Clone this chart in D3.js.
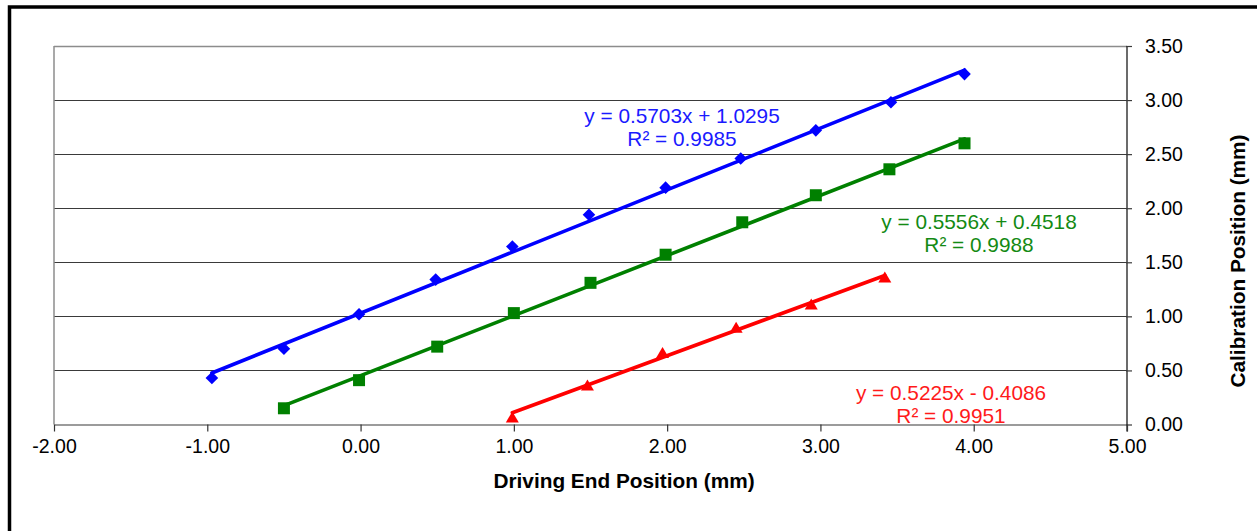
<!DOCTYPE html>
<html>
<head>
<meta charset="utf-8">
<script src="https://cdn.jsdelivr.net/npm/d3@7"></script>
<style>
  html, body { margin: 0; padding: 0; background: #fff; }
  svg { display: block; }
  text { font-family: "Liberation Sans", Arial, sans-serif; }
</style>
</head>
<body>
<svg id="chart" width="1257" height="531"></svg>
<script>
// Driving end position (mm) vs. calibration position (mm) for three runs
const blueX  = [-0.97, -0.50, -0.01, 0.49, 0.99, 1.49, 1.99, 2.48, 2.97, 3.46, 3.94];
const blueY  = [0.43, 0.70, 1.02, 1.34, 1.645, 1.94, 2.19, 2.46, 2.72, 2.98, 3.24];
const greenX = [-0.50, -0.01, 0.50, 1.00, 1.50, 1.99, 2.49, 2.97, 3.45, 3.94];
const greenY = [0.15, 0.41, 0.72, 1.03, 1.31, 1.57, 1.87, 2.12, 2.36, 2.60];
const redX   = [0.99, 1.48, 1.97, 2.45, 2.94, 3.42];
const redY   = [0.065, 0.36, 0.66, 0.895, 1.11, 1.36];

// Linear trendline coefficients and fit quality
const slopes     = [0.5703, 0.5556, 0.5225];
const intercepts = [1.0295, 0.4518, -0.4086];
const rSquared   = ["0.9985", "0.9988", "0.9951"];
const eqLabels   = ["y = 0.5703x + 1.0295", "y = 0.5556x + 0.4518", "y = 0.5225x - 0.4086"];

const xTicks = [-2, -1, 0, 1, 2, 3, 4, 5];
const yTicks = [0, 0.5, 1, 1.5, 2, 2.5, 3, 3.5];
const xTitle = "Driving End Position (mm)";
const yTitle = "Calibration Position (mm)";

const series = [
  { xs: blueX,  ys: blueY,  color: "#0000ff", text: "#1a1aff", shape: "diamond",  label: [682, 123] },
  { xs: greenX, ys: greenY, color: "#008000", text: "#138a13", shape: "square",   label: [979, 229] },
  { xs: redX,   ys: redY,   color: "#ff0000", text: "#ff1a1a", shape: "triangle", label: [951, 400] }
];

const svg = d3.select("#chart");
const plot = { left: 54, right: 1127, top: 46, bottom: 424.5 };

const x = d3.scaleLinear().domain([-2, 5]).range([plot.left, plot.right]);
const y = d3.scaleLinear().domain([0, 3.5]).range([plot.bottom, plot.top]);

// Two decimals with a plain hyphen for negatives
const fmt2 = d => d.toFixed(2);

// Outer chart frame
svg.append("rect")
  .attr("x", 9.5).attr("y", 7)
  .attr("width", 1270).attr("height", 560)
  .attr("fill", "#fff").attr("stroke", "#000").attr("stroke-width", 3.5);

// Horizontal gridlines
svg.append("g")
  .selectAll("line")
  .data(yTicks.filter(t => t > 0))
  .join("line")
  .attr("x1", plot.left).attr("x2", plot.right)
  .attr("y1", d => Math.round(y(d)) + 0.5).attr("y2", d => Math.round(y(d)) + 0.5)
  .attr("stroke", d => d === 3.5 ? "#8c8c8c" : "#3a3a3a")
  .attr("stroke-width", d => d === 3.5 ? 1.5 : 1.2);

// Plot area left edge
svg.append("line")
  .attr("x1", plot.left).attr("x2", plot.left)
  .attr("y1", plot.top).attr("y2", plot.bottom)
  .attr("stroke", "#8c8c8c").attr("stroke-width", 1.5);

// Bottom axis
const xAxis = d3.axisBottom(x)
  .tickValues(xTicks)
  .tickSize(7)
  .tickSizeOuter(0)
  .tickPadding(8)
  .tickFormat(fmt2);

const gx = svg.append("g")
  .attr("transform", `translate(0,${plot.bottom})`)
  .call(xAxis);
gx.select(".domain").attr("stroke", "#7a7a7a").attr("stroke-width", 1.5);
gx.selectAll(".tick line").attr("stroke", "#333").attr("stroke-width", 1.2);
gx.selectAll(".tick text")
  .attr("fill", "#000")
  .style("font-size", "19.5px")
  .style("font-family", "'Liberation Sans', Arial, sans-serif");

// Right axis
const yAxis = d3.axisRight(y)
  .tickValues(yTicks)
  .tickSize(5)
  .tickSizeOuter(0)
  .tickPadding(13)
  .tickFormat(fmt2);

const gy = svg.append("g")
  .attr("transform", `translate(${plot.right},0)`)
  .call(yAxis);
gy.select(".domain").attr("stroke", "#3a3a3a").attr("stroke-width", 1.5)
  .attr("d", `M0,${plot.top}V${plot.bottom + 7}`);
gy.selectAll(".tick line").attr("stroke", "#3a3a3a").attr("stroke-width", 1.2).attr("x1", -1);
gy.selectAll(".tick text")
  .attr("fill", "#000")
  .style("font-size", "19.5px")
  .style("font-family", "'Liberation Sans', Arial, sans-serif");

// Marker shapes
function markerPath(shape) {
  const p = d3.path();
  if (shape === "diamond") {
    const r = 6.3;
    p.moveTo(0, -r); p.lineTo(r, 0); p.lineTo(0, r); p.lineTo(-r, 0); p.closePath();
  } else if (shape === "square") {
    const h = 6;
    p.rect(-h, -h, 2 * h, 2 * h);
  } else {
    const w = 6.5, h = 11;
    p.moveTo(0, -h * 0.55); p.lineTo(w, h * 0.45); p.lineTo(-w, h * 0.45); p.closePath();
  }
  return p.toString();
}

series.forEach((s, i) => {
  const pts = s.xs.map((v, k) => [v, s.ys[k]]);

  // Data markers
  svg.append("g")
    .selectAll("path")
    .data(pts)
    .join("path")
    .attr("d", markerPath(s.shape))
    .attr("transform", d => `translate(${x(d[0])},${y(d[1])})`)
    .attr("fill", s.color);

  // Linear trendline over the series' x range
  const [x0, x1] = d3.extent(s.xs);
  const fit = v => slopes[i] * v + intercepts[i];
  svg.append("path")
    .datum([x0, x1])
    .attr("d", d3.line().x(v => x(v)).y(v => y(fit(v))))
    .attr("fill", "none")
    .attr("stroke", s.color)
    .attr("stroke-width", 3.6)
    .attr("stroke-linecap", "round");

  // Trendline equation and R²
  const t = svg.append("text")
    .attr("x", s.label[0]).attr("y", s.label[1])
    .attr("text-anchor", "middle")
    .attr("fill", s.text)
    .style("font-size", "20.8px");
  t.append("tspan").attr("x", s.label[0]).text(eqLabels[i]);
  t.append("tspan").attr("x", s.label[0]).attr("dy", 23).text("R² = " + rSquared[i]);
});

// Axis titles
svg.append("text")
  .attr("x", 624).attr("y", 488)
  .attr("text-anchor", "middle")
  .attr("fill", "#000")
  .style("font-size", "20.8px")
  .style("font-weight", "bold")
  .text(xTitle);

svg.append("text")
  .attr("transform", "translate(1245,261) rotate(-90)")
  .attr("text-anchor", "middle")
  .attr("fill", "#000")
  .style("font-size", "20.8px")
  .style("font-weight", "bold")
  .text(yTitle);
</script>
</body>
</html>
